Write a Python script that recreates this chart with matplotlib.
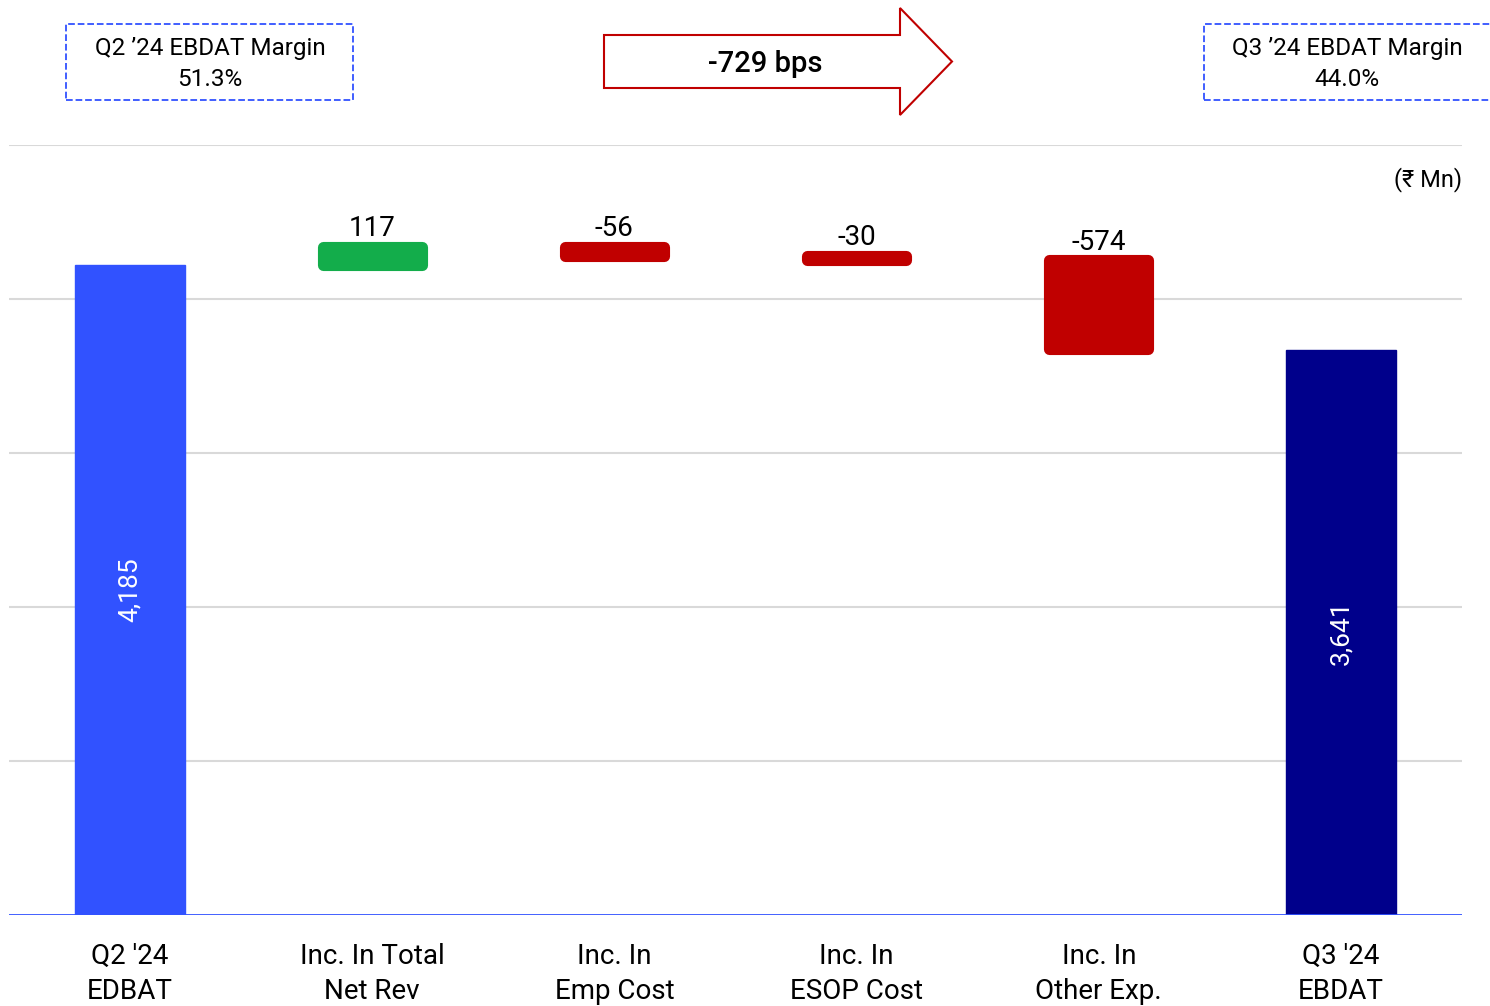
import numpy as np
import matplotlib.pyplot as plt
from matplotlib.patches import FancyArrow, Rectangle

# data
categories = ["Q2 '24\nEDBAT", "Inc. In Total\nNet Rev", "Inc. In\nEmp Cost",
              "Inc. In\nESOP Cost", "Inc. In\nOther Exp.", "Q3 '24\nEBDAT"]
start_value = 4185
changes = [117, -56, -30, -574]
end_value = 3641
change_labels = ["117", "-56", "-30", "-574"]
total_labels = ["4,185", "3,641"]
margin_q2 = "Q2 \u201924 EBDAT Margin\n51.3%"
margin_q3 = "Q3 \u201924 EBDAT Margin\n44.0%"
delta_text = "-729 bps"

plt.rcParams['font.family'] = ['Roboto', 'DejaVu Sans']

W, H = 1490, 1006
fig = plt.figure(figsize=(14.9, 10.06), dpi=100)
ax = fig.add_axes([9 / W, 1 - 915 / H, 1453 / W, 770 / H])

blue = '#3152FF'
navy = '#00008B'
green = '#13AD4B'
red = '#C00000'
ytop = 4958

for y in np.linspace(0, ytop, 6)[1:]:
    ax.axhline(y, color='#D9D9D9', lw=1.5, zorder=0)
ax.axhline(0, color=blue, lw=2, zorder=3)

# first total
ax.bar(0, start_value, width=0.455, color=blue, edgecolor=blue, lw=1, zorder=2)
ax.text(0, start_value / 2, total_labels[0], rotation=90, ha='center', va='center',
        color='white', fontsize=19)

# the step bars
level = start_value
for i, c in enumerate(changes):
    x = i + 1
    col = green if c > 0 else red
    bottom = min(level, level + c)
    ax.bar(x, abs(c), bottom=bottom, width=0.41, color=col, edgecolor=col, lw=8,
           joinstyle='round', zorder=2)
    top = max(level, level + c)
    ax.text(x, top + 68, change_labels[i], ha='center', va='baseline', fontsize=20)
    level += c

ax.bar(5, end_value, width=0.455, color=navy, edgecolor=navy, lw=1, zorder=2)
ax.text(5, end_value / 2, total_labels[1], rotation=90, ha='center', va='center',
        color='white', fontsize=19)

ax.set_xlim(-0.5, 5.5)
ax.set_ylim(0, ytop)
ax.set_yticks([])
ax.set_xticks(range(6))
ax.set_xticklabels(categories, fontsize=20, linespacing=1.4)
ax.tick_params(axis='x', length=0, pad=20)
for s in ax.spines.values():
    s.set_visible(False)

ax.text(1.0, 0.955, "(\u20b9 Mn)", transform=ax.transAxes, ha='right', va='center',
        fontsize=17, family=['Roboto', 'DejaVu Sans'])

# margin boxes
for x0, x1 in [(66, 353), (1204, 1500)]:
    fig.patches.append(Rectangle((x0 / W, 1 - 100 / H), (x1 - x0) / W, 76 / H,
                                 transform=fig.transFigure, fc='white', ec=blue,
                                 ls='--', lw=1.3))
fig.text(210 / W, 1 - 64 / H, margin_q2, ha='center', va='center', fontsize=17.5,
         linespacing=1.4)
fig.text(1347 / W, 1 - 64 / H, margin_q3, ha='center', va='center', fontsize=17.5,
         linespacing=1.4)

# arrow
arr = FancyArrow(604 / W, 1 - 61.5 / H, (952 - 604) / W, 0,
                 width=53 / H, head_width=107 / H, head_length=52 / W,
                 length_includes_head=True, transform=fig.transFigure,
                 fc='white', ec=red, lw=1.5)
fig.patches.append(arr)
fig.text(765 / W, 1 - 64 / H, delta_text, ha='center', va='center',
         fontsize=21, fontweight='medium')

fig.savefig('out.png', dpi=100)
